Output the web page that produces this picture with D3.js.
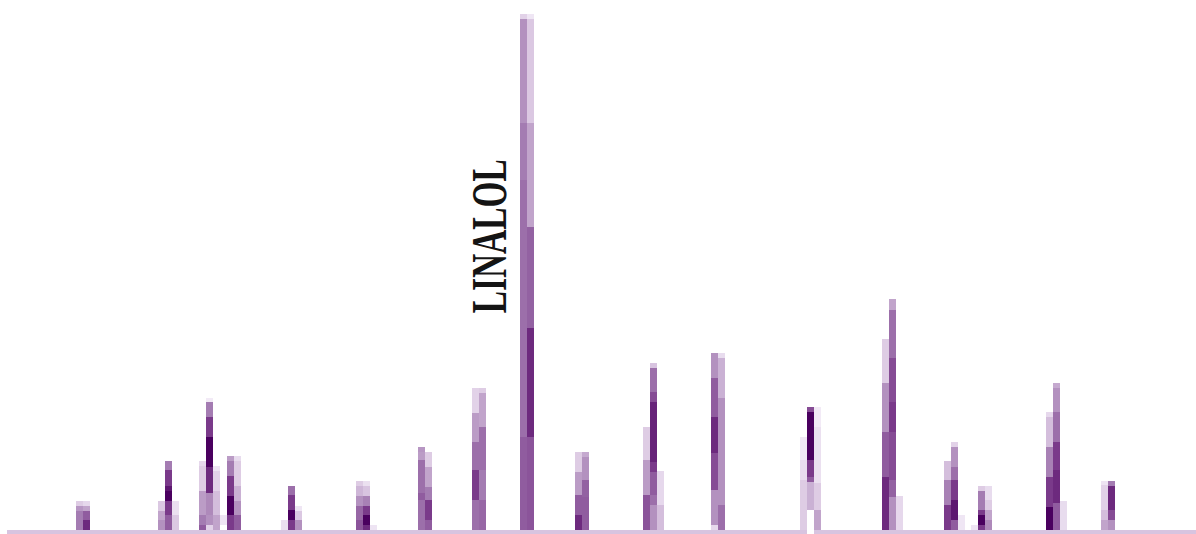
<!DOCTYPE html>
<html>
<head>
<meta charset="utf-8">
<script src="https://cdn.jsdelivr.net/npm/d3@7"></script>
<style>
  html, body { margin: 0; padding: 0; background: #fff; }
  svg { display: block; }
</style>
</head>
<body>
<svg id="chart" width="1196" height="534"></svg>
<script>
// Scan window and intensity range (percent of the base peak)
const scanDomain = [0, 171];
const intensityDomain = [0, 100];

// First scan of each peak cluster
const peakStarts = [10.9, 22.6, 28.5, 40.2, 50.9, 59.8, 67.5, 74.4, 82.2, 91.9, 101.7, 114.4, 126.1, 135.0, 138.8, 149.6, 157.4];

// Peak names (only the base peak is annotated)
const peakNames = ["", "", "", "", "", "", "", "LINALOL", "", "", "", "", "", "", "", "", ""];

// One entry per peak: consecutive scans, each a stack of [cumulative intensity, density] from the baseline up.
// A density of null leaves that stretch empty.
const peakProfiles = [
  [ [[3.7,0.5],[4.7,0.4],[5.6,0.18]],
    [[1.9,0.82],[3.7,0.62],[4.7,0.35],[5.6,0.12]] ],
  [ [[1.9,0.42],[3.7,0.35],[5.6,0.2]],
    [[2.9,0.62],[5.6,0.75],[7.6,1.0],[8.5,0.9],[11.6,0.75],[13.4,0.5]],
    [[2.9,0.2],[5.6,0.08]] ],
  [ [[1.0,0.62],[2.9,0.5],[7.6,0.38],[12.4,0.18],[13.4,0.12]],
    [[1.0,0.15],[2.9,0.42],[7.2,0.45],[12.2,0.82],[18.0,1.0],[21.9,0.75],[24.8,0.5],[25.6,0.03]],
    [[2.9,0.35],[7.6,0.25],[11.4,0.15],[12.4,0.06]],
    [[1.0,null],[2.9,0.06]],
    [[2.9,0.75],[6.6,1.0],[10.5,0.75],[13.4,0.5],[14.3,0.38]],
    [[2.9,0.62],[5.6,0.42],[8.5,0.3],[13.4,0.18],[14.3,0.1]] ],
  [ [[1.9,0.08]],
    [[1.9,0.75],[3.9,1.0],[6.8,0.75],[8.5,0.55]],
    [[1.9,0.42],[3.7,0.2],[4.7,0.05]] ],
  [ [[1.9,0.65],[4.7,0.58],[6.6,0.42],[8.5,0.28],[9.5,0.18]],
    [[1.0,0.82],[2.9,1.0],[4.7,0.75],[6.6,0.48],[8.5,0.22],[9.5,0.08]],
    [[1.0,0.06]] ],
  [ [[5.8,0.55],[7.2,0.62],[13.6,0.55],[15.1,0.38],[16.1,0.4]],
    [[1.9,0.62],[5.8,0.75],[8.3,0.5],[12.2,0.35],[15.1,0.18]] ],
  [ [[5.8,0.55],[11.6,0.75],[17.1,0.55],[22.7,0.38],[27.5,0.15]],
    [[5.8,0.58],[11.6,0.5],[20.0,0.55],[26.6,0.35],[27.5,0.18]] ],
  [ [[18.0,0.62],[67.8,0.55],[78.9,0.5],[99.0,0.42],[100,0.15]],
    [[18.0,0.65],[39.1,0.82],[58.7,0.6],[78.9,0.35],[99.0,0.2],[100,0.05]] ],
  [ [[2.9,0.82],[6.8,0.62],[11.2,0.38],[15.1,0.18]],
    [[6.4,0.62],[9.7,0.6],[14.1,0.42],[15.1,0.33]] ],
  [ [[6.8,0.65],[13.6,0.38],[20.0,0.18]],
    [[4.8,0.42],[6.8,0.55],[11.2,0.62],[13.2,0.75],[24.8,0.85],[26.7,0.68],[31.4,0.55],[32.4,0.22]],
    [[4.8,0.25],[11.4,0.12]] ],
  [ [[1.0,0.12],[7.8,0.42],[14.9,0.68],[21.9,0.82],[29.5,0.62],[34.3,0.42]],
    [[4.8,0.55],[25.6,0.42],[33.3,0.3],[34.3,0.1]] ],
  [ [[9.7,0.18],[13.6,0.1],[18.0,0.04]],
    [[3.9,null],[9.3,0.3],[10.3,0.62],[13.6,0.75],[22.9,1.0],[23.8,0.68]],
    [[3.9,0.35],[9.1,0.18],[20.0,0.08],[23.8,0.03]] ],
  [ [[10.3,0.82],[19.0,0.62],[28.5,0.42],[37.0,0.18]],
    [[6.4,0.42],[9.7,0.6],[19.0,0.68],[24.8,0.75],[33.3,0.68],[42.6,0.55],[44.8,0.35]],
    [[6.6,0.12]] ],
  [ [[4.8,0.75],[9.7,0.48],[13.4,0.25]],
    [[1.9,0.62],[5.8,0.9],[9.7,0.75],[12.2,0.55],[16.1,0.42],[17.1,0.15]],
    [[2.9,0.05]] ],
  [ [[1.0,0.06]],
    [[1.0,0.75],[2.9,1.0],[3.9,0.75],[7.6,0.5],[8.5,0.18]],
    [[1.9,0.45],[3.9,0.35],[5.8,0.18],[8.5,0.1]] ],
  [ [[4.5,1.0],[10.3,0.75],[16.1,0.48],[21.9,0.25],[22.9,0.12]],
    [[5.2,0.62],[11.6,0.82],[17.1,0.75],[22.9,0.55],[27.5,0.42],[28.5,0.33]],
    [[5.6,0.1]] ],
  [ [[1.9,0.35],[3.9,0.25],[8.7,0.15],[9.5,0.06]],
    [[1.9,0.42],[3.9,0.68],[8.5,0.82],[9.5,0.5]] ]
];

// Baseline band: first scan, its density, and scans where it drops out
const baselineFirstScan = 1;
const baselineDensity = 0.22;
const baselineGapScans = [115.4];

const width = 1196, height = 534;
const plotBottom = 530, plotTop = 14;

const x = d3.scaleLinear().domain(scanDomain).range([0, width]);
const y = d3.scaleLinear().domain(intensityDomain).range([plotBottom, plotTop]);
const shade = d3.scaleLinear()
  .domain([0, 0.25, 0.5, 0.75, 1])
  .range(["#f6f0fa", "#d4bedc", "#a47cb2", "#7a3a8a", "#4a005f"])
  .interpolate(d3.interpolateRgb);

const svg = d3.select("#chart");
svg.append("rect").attr("width", width).attr("height", height).attr("fill", "#fff");

// Baseline band, split around dropout scans
const bandPieces = [];
let from = baselineFirstScan;
baselineGapScans.forEach(g => { bandPieces.push([from, g]); from = g + 1; });
bandPieces.push([from, scanDomain[1]]);
svg.append("g").attr("class", "baseline")
  .selectAll("rect").data(bandPieces).join("rect")
  .attr("x", d => Math.round(x(d[0])))
  .attr("width", d => Math.round(x(d[1])) - Math.round(x(d[0])))
  .attr("y", plotBottom)
  .attr("height", height - plotBottom)
  .attr("fill", shade(baselineDensity))
  .attr("shape-rendering", "crispEdges");

// Flatten peaks into scan cells
const cells = [];
peakProfiles.forEach((cols, p) => {
  cols.forEach((stack, c) => {
    let lo = 0;
    stack.forEach(([hi, dens]) => {
      if (dens !== null) cells.push({ scan: peakStarts[p] + c, lo, hi, dens });
      lo = hi;
    });
  });
});

svg.append("g").attr("class", "peaks")
  .selectAll("rect").data(cells).join("rect")
  .attr("x", d => Math.round(x(d.scan)))
  .attr("width", d => Math.round(x(d.scan + 1)) - Math.round(x(d.scan)))
  .attr("y", d => Math.round(y(d.hi)))
  .attr("height", d => Math.round(y(d.lo)) - Math.round(y(d.hi)))
  .attr("fill", d => shade(d.dens))
  .attr("shape-rendering", "crispEdges");

// Peak annotations, written upward beside the peak
const labelled = peakNames.map((name, i) => ({ name, i })).filter(d => d.name);
svg.append("g").attr("class", "labels")
  .selectAll("text").data(labelled).join("text")
  .attr("transform", d => {
    const apex = d3.max(peakProfiles[d.i], s => s[s.length - 1][0]);
    return `translate(${x(peakStarts[d.i]) - 14},${y(apex * 0.42)}) rotate(-90)`;
  })
  .attr("font-family", "'Liberation Serif', 'DejaVu Serif', serif")
  .attr("font-weight", "bold")
  .attr("font-size", 50)
  .attr("textLength", 154)
  .attr("lengthAdjust", "spacingAndGlyphs")
  .attr("fill", "#141414")
  .text(d => d.name);
</script>
</body>
</html>
